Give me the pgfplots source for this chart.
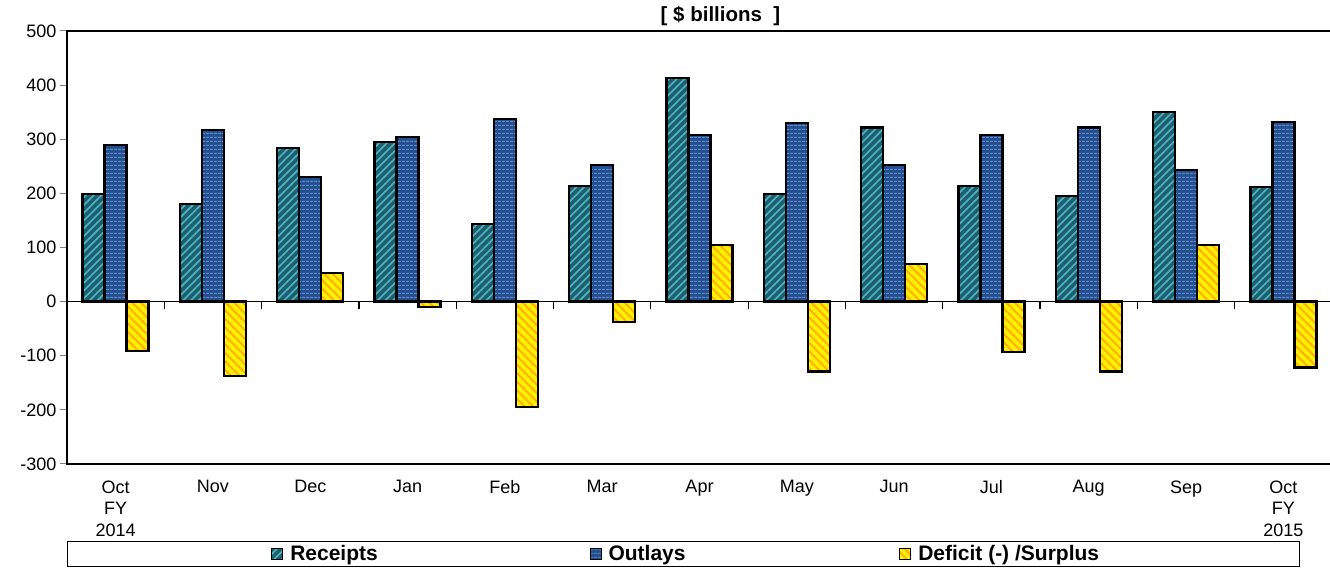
\documentclass[border=0pt]{standalone}
\usepackage{fontspec}
\setmainfont{Liberation Sans}
\usepackage{pgfplots}
\pgfplotsset{compat=1.18}
\usetikzlibrary{patterns.meta}
\definecolor{recBase}{HTML}{1F5E6C}
\definecolor{recLine}{HTML}{4CB6C9}
\definecolor{outBase}{HTML}{244E8C}
\definecolor{outLine}{HTML}{5B8ED4}
\definecolor{defBase}{HTML}{FFF200}
\definecolor{defLine}{HTML}{FFB000}
\begin{document}
\begin{tikzpicture}
\begin{axis}[name=ax, scale only axis, width=1265pt, height=433pt,
  xmin=-0.5, xmax=12.5, ymin=-300, ymax=500,
  ytick={-300,-200,...,500},
  ybar=0pt, bar width=22pt,
  axis line style={line width=1.6pt},
  tick align=outside, ytick pos=left, major tick length=7pt,
  ytick style={line width=1pt},
  xtick={0,...,12}, xtick style={draw=none},
  xticklabels={{Oct\\FY\\2014},Nov,Dec,Jan,Feb,Mar,Apr,May,Jun,Jul,Aug,Sep,{Oct\\FY\\2015}},
  xticklabel style={align=center, font=\fontsize{18}{21.5}\selectfont, yshift=-6pt},
  yticklabel style={font=\fontsize{18}{20}\selectfont},
  /pgf/number format/assume math mode=true,
  title={[ \$ billions\ \ ]},
  title style={font=\bfseries\fontsize{20.5}{22}\selectfont, at={(0.5,1)}, anchor=south, xshift=21pt, yshift=-4pt},
  legend columns=3,
  legend image code/.code={\path (0pt,0pt); \draw[#1, line width=1pt] (5pt,-5.5pt) rectangle (16pt,5.5pt);},
  legend style={at={(0,0)}, anchor=north west, yshift=-77pt, draw=black, line width=1.2pt,
    inner xsep=198pt, inner ysep=2pt,
    font=\bfseries\fontsize{21}{22}\selectfont,
    /tikz/column 1/.style={column sep=5pt},
    /tikz/column 2/.style={column sep=204pt},
    /tikz/column 3/.style={column sep=5pt},
    /tikz/column 4/.style={column sep=206pt},
    /tikz/column 5/.style={column sep=5pt}},
]
\addplot[draw=black, line width=2.4pt, fill=recBase,
  postaction={pattern={Lines[angle=45,distance=5.5pt,line width=1.6pt]}, pattern color=recLine}]
  coordinates {(0,199) (1,180) (2,284) (3,295) (4,143) (5,214) (6,413) (7,199) (8,322) (9,214) (10,195) (11,350) (12,212)};
\addlegendentry{Receipts}
\addplot[draw=black, line width=2.4pt, fill=outBase,
  postaction={pattern={Lines[angle=0,distance=4pt,line width=1pt]}, pattern color=outLine}]
  coordinates {(0,289) (1,317) (2,230) (3,304) (4,337) (5,252) (6,308) (7,330) (8,252) (9,308) (10,322) (11,243) (12,332)};
\addlegendentry{Outlays}
\addplot[draw=black, line width=2.4pt, fill=defBase,
  postaction={pattern={Lines[angle=-45,distance=6pt,line width=2pt]}, pattern color=defLine}]
  coordinates {(0,-91) (1,-137) (2,53) (3,-10) (4,-195) (5,-38) (6,105) (7,-129) (8,70) (9,-93) (10,-129) (11,105) (12,-122)};
\addlegendentry{Deficit (-) /Surplus}
\draw[line width=1.2pt] (axis cs:-0.5,0) -- (axis cs:12.5,0);
\pgfplotsinvokeforeach{0,...,11}{\draw[line width=1.2pt] (axis cs:#1.5,0) -- ++(0pt,-7pt);}
\end{axis}
\pgfresetboundingbox
\useasboundingbox ([shift={(-67pt,-105pt)}]ax.south west) rectangle ([shift={(1263pt,31pt)}]ax.north west);
\end{tikzpicture}
\end{document}
